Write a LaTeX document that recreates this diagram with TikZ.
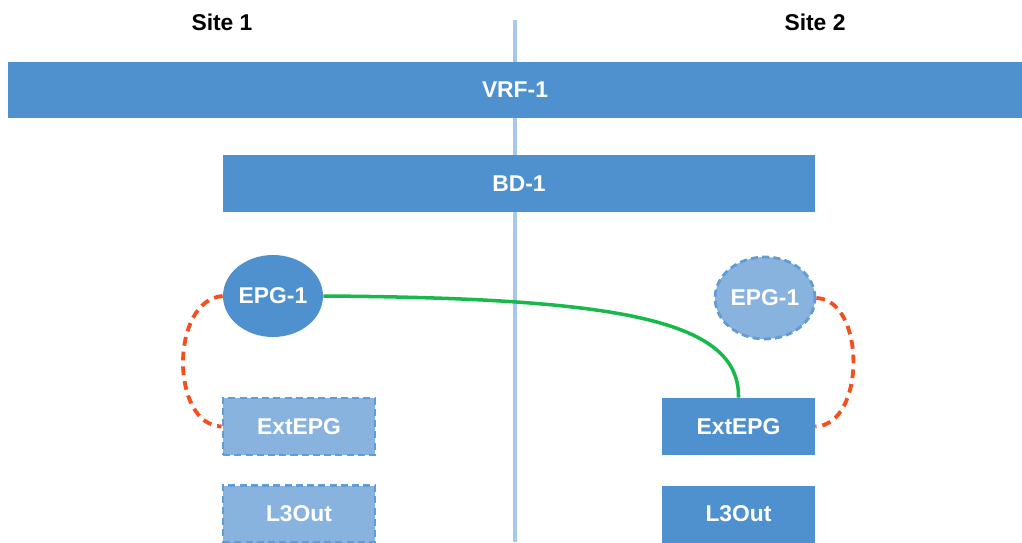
\documentclass[tikz,border=0pt]{standalone}
\usepackage{fontspec}
\setmainfont{Liberation Sans}
\usetikzlibrary{shapes.geometric}

\definecolor{aciblue}{HTML}{4F91CF}
\definecolor{acilight}{HTML}{88B3DF}
\definecolor{aciline}{HTML}{A7C8EA}
\definecolor{acigreen}{HTML}{18B94A}
\definecolor{acired}{HTML}{F2501F}

\tikzset{
    lbl/.style = {font=\fontsize{13}{15}\selectfont\bfseries},
    bar/.style = {lbl, rectangle, fill=aciblue, text=white, inner sep=0pt},
    ghost/.style = {lbl, rectangle, fill=acilight, text=white, inner sep=0pt,
        draw=aciblue!90, line width=1.6pt, dash pattern=on 4pt off 2.4pt},
    epg/.style = {lbl, ellipse, fill=aciblue, text=white, inner sep=0pt,
        minimum width=2cm, minimum height=1.64cm},
    ghostepg/.style = {epg, fill=acilight, draw=aciblue!90, line width=1.6pt,
        dash pattern=on 4pt off 2.4pt},
    link/.style = {draw=acigreen, line width=2pt},
    local/.style = {draw=acired, line width=2.2pt, dash pattern=on 5pt off 3.4pt},
}

\begin{document}
\begin{tikzpicture}[x=0.02cm, y=-0.02cm]
    \useasboundingbox (0, 0) rectangle (1022, 542);
    \clip (0, 0) rectangle (1022, 542);

    % sites
    \node[lbl] (site1) at (222, 22) {Site 1};
    \node[lbl] (site2) at (815, 22) {Site 2};
    \draw[aciline, line width=2.2pt] (515, 20) -- (515, 542);

    % tenant objects
    \node[bar, minimum width=20.28cm, minimum height=1.12cm] (vrf) at (515, 90) {VRF-1};
    \node[bar, minimum width=11.84cm, minimum height=1.14cm] (bd) at (519, 183.5) {BD-1};

    \node[epg] (epgA) at (273, 296) {EPG-1};
    \node[ghostepg] (epgB) at (765, 298) {EPG-1};

    \node[ghost, minimum width=3.04cm, minimum height=1.14cm] (extA) at (299, 426.5) {ExtEPG};
    \node[bar, minimum width=3.06cm, minimum height=1.14cm] (extB) at (738.5, 426.5) {ExtEPG};

    \node[ghost, minimum width=3.04cm, minimum height=1.14cm] (l3A) at (299, 514) {L3Out};
    \node[bar, minimum width=3.06cm, minimum height=1.14cm] (l3B) at (738.5, 514) {L3Out};

    % contracts
    \draw[link] (epgA.east) .. controls (620, 298) and (740, 320) .. (extB.north);
    \draw[local] (epgA.west) .. controls (170, 300) and (170, 425) .. (extA.west);
    \draw[local] (epgB.east) .. controls (866, 300) and (866, 425) .. (extB.east);
\end{tikzpicture}
\end{document}
